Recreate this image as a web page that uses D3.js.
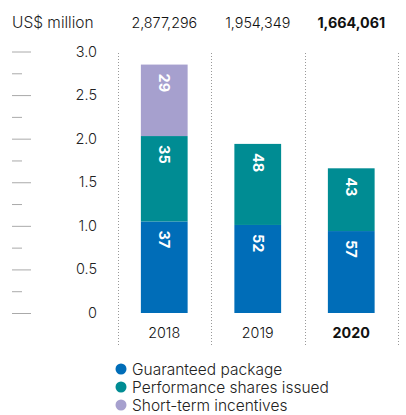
<!DOCTYPE html>
<html><head><meta charset="utf-8">
<script src="https://cdn.jsdelivr.net/npm/d3@7"></script>
<style>body{margin:0;background:#fff;} svg{display:block;font-family:Inter,"Liberation Sans",sans-serif;}</style>
</head><body><svg id="c" width="406" height="415"></svg>
<script>
const years = ["2018","2019","2020"];
const totals = ["2,877,296","1,954,349","1,664,061"];
const seriesNames = ["Guaranteed package","Performance shares issued","Short-term incentives"];
const guaranteed = [1.05, 1.01, 0.94];
const performance = [0.98, 0.93, 0.72];
const shortTerm = [0.82, 0, 0];
const pctGuaranteed = ["37","52","57"];
const pctPerformance = ["35","48","43"];
const pctShortTerm = ["29","",""];
const yTicks = [0,0.5,1.0,1.5,2.0,2.5,3.0];
const yTickLabels = ["0","0.5","1.0","1.5","2.0","2.5","3.0"];
const colors = ["#006DB8","#008C93","#A6A0CE"];

const svg = d3.select("#c");
const y = d3.scaleLinear().domain([0,3]).range([313,51.5]);
const x = d3.scaleBand().domain(years).range([117.5,398]).paddingInner(0.5).paddingOuter(0.25);
const step = x.step();

// header
svg.append("text").attr("x",12).attr("y",28).attr("font-size",15.5).attr("fill","#222").attr("font-weight",300).text("US$ million");
svg.selectAll(".tot").data(years).enter().append("text")
  .attr("x",d=>x(d)+x.bandwidth()/2).attr("y",28).attr("text-anchor","middle")
  .attr("font-size",14.3).attr("fill","#111").attr("font-weight",(d,i)=>i===2?700:300)
  .text((d,i)=>totals[i]);

// left dashes
const minor = d3.range(0,3.01,0.25);
svg.selectAll(".dash").data(minor).enter().append("line")
  .attr("x1",12).attr("x2",d=>(Math.round(d*4)%2===0)?31:22)
  .attr("y1",d=>y(d)+0.5).attr("y2",d=>y(d)+0.5)
  .attr("stroke","#aaa").attr("stroke-width",1);

// y labels
svg.selectAll(".yl").data(yTicks).enter().append("text")
  .attr("x",97).attr("y",d=>y(d)+5).attr("text-anchor","end")
  .attr("font-size",14.5).attr("fill","#222").attr("font-weight",300)
  .text((d,i)=>yTickLabels[i]);

// dotted verticals
const edges = years.map(d=>x(d)-(step-x.bandwidth())/2).concat([x("2020")+x.bandwidth()+(step-x.bandwidth())/2]);
svg.selectAll(".vl").data(edges).enter().append("line")
  .attr("x1",d=>Math.round(d)+0.5).attr("x2",d=>Math.round(d)+0.5)
  .attr("y1",53).attr("y2",346)
  .attr("stroke","#999").attr("stroke-width",1).attr("stroke-dasharray","1,2");

// stacks
const data = years.map((yr,i)=>({year:yr,g:guaranteed[i],p:performance[i],s:shortTerm[i]}));
const stack = d3.stack().keys(["g","p","s"])(data);
const labels = [pctGuaranteed,pctPerformance,pctShortTerm];
stack.forEach((layer,k)=>{
  svg.selectAll(".b"+k).data(layer).enter().append("rect")
    .attr("x",d=>x(d.data.year)).attr("width",x.bandwidth())
    .attr("y",d=>y(d[1])).attr("height",d=>y(d[0])-y(d[1]))
    .attr("fill",colors[k]);
  layer.forEach((d,i)=>{
    const lab = labels[k][i];
    if(!lab) return;
    const cx = x(d.data.year)+x.bandwidth()/2;
    const top = y(d[1]);
    svg.append("text")
      .attr("transform",`translate(${cx-5},${top+9}) rotate(90)`)
      .attr("font-size",14.5).attr("font-weight",700).attr("fill","#fff")
      .attr("text-anchor","start").text(lab);
  });
});

// x labels
svg.selectAll(".xl").data(years).enter().append("text")
  .attr("x",d=>x(d)+x.bandwidth()/2).attr("y",338).attr("text-anchor","middle")
  .attr("font-size",14.3).attr("fill","#111").attr("font-weight",(d,i)=>i===2?700:300)
  .text(d=>d);

// legend
seriesNames.forEach((n,i)=>{
  const cy = 369 + i*18;
  svg.append("circle").attr("cx",121).attr("cy",cy).attr("r",5.5).attr("fill",colors[i]);
  svg.append("text").attr("x",132).attr("y",cy+5.5).attr("font-size",15.5).attr("fill","#222").attr("font-weight",300).text(n);
});
</script></body></html>
